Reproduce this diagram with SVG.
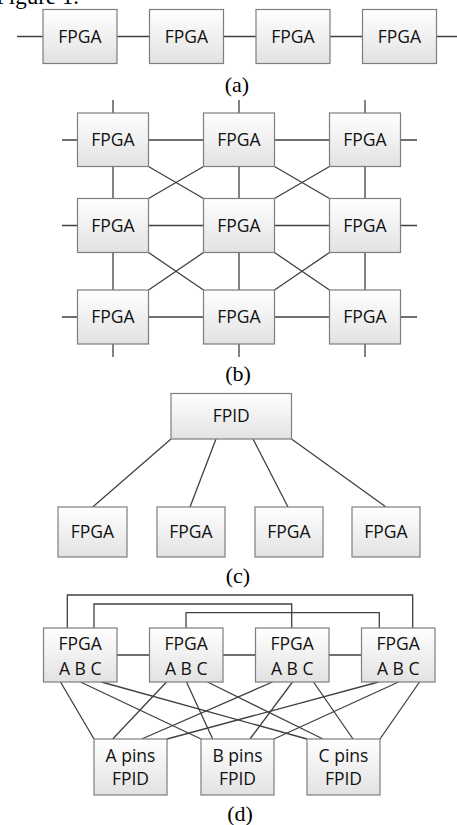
<svg xmlns="http://www.w3.org/2000/svg" width="457" height="825" viewBox="0 0 457 825">
<defs>
<linearGradient id="g" x1="0" y1="0" x2="0" y2="1">
<stop offset="0" stop-color="#ffffff"/>
<stop offset="1" stop-color="#e2e2e2"/>
</linearGradient>
<style>
.b{fill:url(#g);stroke:#7e7e7e;stroke-width:1.2}
.t{font-family:"Open Sans","Noto Sans",sans-serif;font-size:17.5px;fill:#111;text-anchor:middle}
.c{fill:none;stroke:#404040;stroke-width:1.3}
.l{font-family:"Liberation Serif",serif;font-size:22px;fill:#000;text-anchor:middle}
</style>
</defs>
<rect width="457" height="825" fill="#fff"/>
<text x="-4" y="4" font-family="Liberation Serif,serif" font-size="23" fill="#000">Figure 1.</text>

<g id="connectors">
<path class="c" d="M17 36.5H457"/>
<path class="c" d="M62 140H417M62 225.5H417M62 317H417"/>
<path class="c" d="M113 100V357M239 100V357M365 100V357"/>
<path class="c" d="M148.5 166.5L203.5 198.5M203.5 166.5L148.5 198.5M274.5 166.5L329.5 198.5M329.5 166.5L274.5 198.5"/>
<path class="c" d="M148.5 252.5L203.5 290M203.5 252.5L148.5 290M274.5 252.5L329.5 290M329.5 252.5L274.5 290"/>
<path class="c" d="M171 439L92.7 507M216 439L190 507M253 439L288 507M291.5 439L386 507"/>
<path class="c" d="M67.3 628V595H412.7V628M94 628V604H291.7V628M186 628V612.7H379.3V628"/>
<path class="c" d="M117 655H149.5M223 655H255.5M329 655H361.5"/>
<path class="c" d="M60.5 682L94 739M166.5 682L112.7 739M272.5 682L141.7 739M378.5 682L167 739"/>
<path class="c" d="M80.5 682L201 739M186.5 682L212.7 739M292.5 682L250 739M398.5 682L274 739"/>
<path class="c" d="M101.5 682L307 739M207.5 682L323 739M313.5 682L353 739M419.5 682L380 739"/>
</g>

<g id="a1"><rect class="b" x="43" y="9.5" width="74" height="54"/><text class="t" x="80" y="42.5">FPGA</text></g>
<g id="a2"><rect class="b" x="149.5" y="9.5" width="74" height="54"/><text class="t" x="186.5" y="42.5">FPGA</text></g>
<g id="a3"><rect class="b" x="256" y="9.5" width="74" height="54"/><text class="t" x="293" y="42.5">FPGA</text></g>
<g id="a4"><rect class="b" x="362.5" y="9.5" width="74" height="54"/><text class="t" x="399.5" y="42.5">FPGA</text></g>
<text class="l" x="237" y="92">(a)</text>

<g id="b11"><rect class="b" x="77.5" y="113" width="71" height="53.5"/><text class="t" x="113" y="146">FPGA</text></g>
<g id="b12"><rect class="b" x="203.5" y="113" width="71" height="53.5"/><text class="t" x="239" y="146">FPGA</text></g>
<g id="b13"><rect class="b" x="329.5" y="113" width="71" height="53.5"/><text class="t" x="365" y="146">FPGA</text></g>
<g id="b21"><rect class="b" x="77.5" y="198.5" width="71" height="54"/><text class="t" x="113" y="231.5">FPGA</text></g>
<g id="b22"><rect class="b" x="203.5" y="198.5" width="71" height="54"/><text class="t" x="239" y="231.5">FPGA</text></g>
<g id="b23"><rect class="b" x="329.5" y="198.5" width="71" height="54"/><text class="t" x="365" y="231.5">FPGA</text></g>
<g id="b31"><rect class="b" x="77.5" y="290" width="71" height="54"/><text class="t" x="113" y="323">FPGA</text></g>
<g id="b32"><rect class="b" x="203.5" y="290" width="71" height="54"/><text class="t" x="239" y="323">FPGA</text></g>
<g id="b33"><rect class="b" x="329.5" y="290" width="71" height="54"/><text class="t" x="365" y="323">FPGA</text></g>
<text class="l" x="238" y="381">(b)</text>

<g id="c0"><rect class="b" x="171" y="393.5" width="120.5" height="45.5"/><text class="t" x="231.25" y="422">FPID</text></g>
<g id="c1"><rect class="b" x="58" y="507" width="69" height="50"/><text class="t" x="92.5" y="538">FPGA</text></g>
<g id="c2"><rect class="b" x="157" y="507" width="68" height="50"/><text class="t" x="191" y="538">FPGA</text></g>
<g id="c3"><rect class="b" x="255" y="507" width="68" height="50"/><text class="t" x="289" y="538">FPGA</text></g>
<g id="c4"><rect class="b" x="352" y="507" width="68" height="50"/><text class="t" x="386" y="538">FPGA</text></g>
<text class="l" x="238" y="583">(c)</text>

<g id="d1"><rect class="b" x="43.5" y="628" width="73.5" height="54"/><text class="t" x="80.25" y="649.5">FPGA</text><text class="t" x="80.25" y="675">A B C</text></g>
<g id="d2"><rect class="b" x="149.5" y="628" width="73.5" height="54"/><text class="t" x="186.25" y="649.5">FPGA</text><text class="t" x="186.25" y="675">A B C</text></g>
<g id="d3"><rect class="b" x="255.5" y="628" width="73.5" height="54"/><text class="t" x="292.25" y="649.5">FPGA</text><text class="t" x="292.25" y="675">A B C</text></g>
<g id="d4"><rect class="b" x="361.5" y="628" width="73.5" height="54"/><text class="t" x="398.25" y="649.5">FPGA</text><text class="t" x="398.25" y="675">A B C</text></g>
<g id="pa"><rect class="b" x="94" y="739" width="73" height="56"/><text class="t" x="130.5" y="761.5">A pins</text><text class="t" x="130.5" y="785">FPID</text></g>
<g id="pb"><rect class="b" x="201" y="739" width="73" height="56"/><text class="t" x="237.5" y="761.5">B pins</text><text class="t" x="237.5" y="785">FPID</text></g>
<g id="pc"><rect class="b" x="307" y="739" width="73" height="56"/><text class="t" x="343.5" y="761.5">C pins</text><text class="t" x="343.5" y="785">FPID</text></g>
<text class="l" x="240" y="821">(d)</text>
</svg>
